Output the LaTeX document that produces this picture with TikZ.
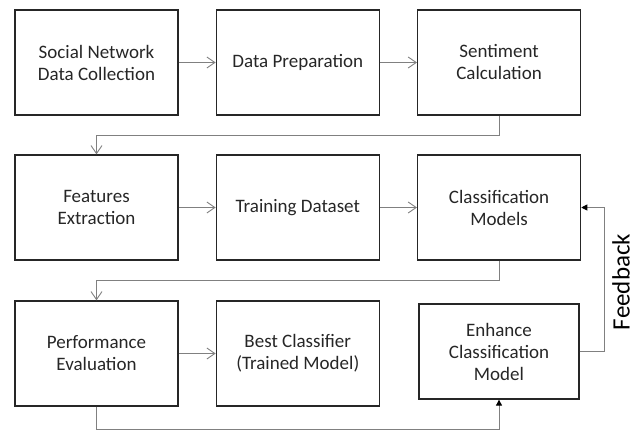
\documentclass[tikz,border=0pt]{standalone}
\usepackage{fontspec}
\setmainfont{Carlito}
\usepackage{tikz}
\usetikzlibrary{arrows.meta, positioning}

\definecolor{boxline}{HTML}{262626}
\definecolor{flowgray}{HTML}{808080}

\begin{document}
\begin{tikzpicture}[x=1pt, y=1pt,
    stage/.style={draw=boxline, line width=1.3pt, minimum width=163pt, minimum height=105pt,
        align=center, text=boxline, font=\fontsize{19}{22}\selectfont, inner sep=0pt},
    flow/.style={draw=flowgray, line width=0.9pt, -{Straight Barb[length=8pt, width=11pt]}},
    fb/.style={draw=flowgray, line width=0.9pt, -{Triangle[length=6pt, width=6pt, color=black]}}]
    \useasboundingbox (0,0) rectangle (639,432);

    % first row
    \node[stage] (collect) at (96.5,369.5) {Social Network\\Data Collection};
    \node[stage, right=37pt of collect] (prep) {Data Preparation};
    \node[stage, right=37pt of prep] (sent) {Sentiment\\Calculation};

    % second row
    \node[stage] (feat) at (96.5,224.5) {Features\\Extraction};
    \node[stage, right=37pt of feat] (train) {Training Dataset};
    \node[stage, right=37pt of train] (cls) {Classification\\Models};

    % third row
    \node[stage] (perf) at (96.5,78.5) {Performance\\Evaluation};
    \node[stage, right=37pt of perf] (best) {Best Classifier\\(Trained Model)};
    \node[stage, minimum width=160pt, minimum height=95pt] (enh) at (499,80.5) {Enhance\\Classification\\Model};

    \draw[flow] (collect) -- (prep);
    \draw[flow] (prep) -- (sent);
    \draw[flow] (sent.south) -- ++(0,-20) -| (feat.north);
    \draw[flow] (feat) -- (train);
    \draw[flow] (train) -- (cls);
    \draw[flow] (cls.south) -- ++(0,-20) -| (perf.north);
    \draw[flow] (perf) -- (best);
    \draw[fb] (perf.south) -- ++(0,-23) -| (enh.south);
    \draw[fb] (enh.east) -- ++(25,0) |- (cls.east);

    \node[rotate=90, text=black, font=\fontsize{25}{28}\selectfont] (fbtext) at (621,150) {Feedback};
\end{tikzpicture}
\end{document}
